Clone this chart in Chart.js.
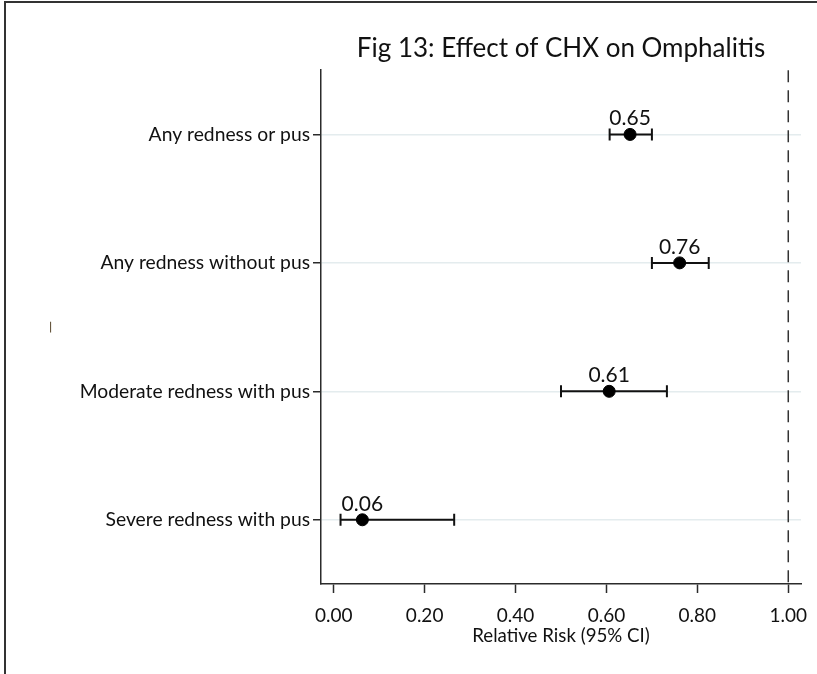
<!DOCTYPE html>
<html>
<head>
<meta charset="utf-8">
<script src="https://cdn.jsdelivr.net/npm/chart.js@4.4.1/dist/chart.umd.min.js"></script>
<style>
  html, body { margin: 0; padding: 0; background: #fff; }
  #wrap { position: relative; width: 817px; height: 674px; }
  #frame { position: absolute; left: 4px; top: 1px; width: 813px; height: 673px;
           border-left: 2px solid #333; border-top: 2px solid #333; box-sizing: border-box; pointer-events: none; }
  canvas { position: absolute; left: 0; top: 0; }
</style>
</head>
<body>
<div id="wrap">
  <canvas id="c" width="817" height="674"></canvas>
  <div id="frame"></div>
</div>
<script>
const categories = ["Any redness or pus", "Any redness without pus", "Moderate redness with pus", "Severe redness with pus"];
const riskValues = [0.652, 0.761, 0.606, 0.063];
const ciLower = [0.607, 0.700, 0.500, 0.015];
const ciUpper = [0.700, 0.825, 0.733, 0.265];
const valueLabels = ["0.65", "0.76", "0.61", "0.06"];
const xTicks = [0, 0.2, 0.4, 0.6, 0.8, 1.0];
const referenceValue = 1.0;

const FONT = "Lato, 'Open Sans', sans-serif";
const DARK = "#2b2b2b";

const points = riskValues.map((v, i) => ({ x: v, y: i + 1 }));

const forestPlugin = {
  id: 'forest',
  beforeDatasetsDraw(chart) {
    const { ctx, chartArea, scales: { x, y } } = chart;
    ctx.save();
    ctx.strokeStyle = "#333";
    ctx.lineWidth = 1.5;
    ctx.setLineDash([12, 8]);
    const rx = x.getPixelForValue(referenceValue);
    ctx.beginPath();
    ctx.moveTo(rx, chartArea.top);
    ctx.lineTo(rx, chartArea.bottom);
    ctx.stroke();
    ctx.restore();
    ctx.save();
    ctx.strokeStyle = "#111";
    ctx.lineWidth = 2;
    for (let i = 0; i < categories.length; i++) {
      const py = y.getPixelForValue(i + 1);
      const x1 = x.getPixelForValue(ciLower[i]);
      const x2 = x.getPixelForValue(ciUpper[i]);
      ctx.beginPath();
      ctx.moveTo(x1, py); ctx.lineTo(x2, py);
      ctx.moveTo(x1, py - 6); ctx.lineTo(x1, py + 6);
      ctx.moveTo(x2, py - 6); ctx.lineTo(x2, py + 6);
      ctx.stroke();
    }
    ctx.restore();
  },
  afterDatasetsDraw(chart) {
    const { ctx, scales: { x, y } } = chart;
    ctx.save();
    ctx.fillStyle = "#111";
    ctx.font = "21px " + FONT;
    ctx.textAlign = "center";
    ctx.textBaseline = "alphabetic";
    for (let i = 0; i < categories.length; i++) {
      ctx.fillText(valueLabels[i], x.getPixelForValue(riskValues[i]), y.getPixelForValue(i + 1) - 9);
    }
    ctx.restore();
  }
};

new Chart(document.getElementById('c'), {
  type: 'scatter',
  data: {
    datasets: [{
      data: points,
      pointRadius: 6,
      pointHoverRadius: 6,
      pointBackgroundColor: "#000",
      pointBorderColor: "#000",
      showLine: false
    }]
  },
  options: {
    responsive: false,
    animation: false,
    events: [],
    layout: { padding: { left: 40, right: 16, top: 33, bottom: 28 } },
    plugins: {
      legend: { display: false },
      tooltip: { enabled: false },
      title: {
        display: true,
        text: "Fig 13: Effect of CHX on Omphalitis",
        fullSize: false,
        color: "#111",
        font: { family: FONT, size: 26, weight: 'normal' },
        padding: { top: 0, bottom: 6 }
      }
    },
    scales: {
      x: {
        type: 'linear',
        min: -0.028,
        max: 1.028,
        afterBuildTicks: s => { s.ticks = xTicks.map(v => ({ value: v })); },
        afterFit: s => { s.height = 674 - 584 - 28; },
        ticks: {
          color: "#111",
          font: { family: FONT, size: 19, lineHeight: 1.45 },
          padding: 9,
          callback: v => Number(v).toFixed(2)
        },
        grid: { drawOnChartArea: false, tickLength: 9, tickColor: DARK, tickWidth: 1.5 },
        border: { display: true, color: DARK, width: 1.5 },
        title: {
          display: true,
          text: "Relative Risk (95% CI)",
          color: "#111",
          font: { family: FONT, size: 18.7, lineHeight: 1.1 },
          padding: 0
        }
      },
      y: {
        type: 'linear',
        reverse: true,
        min: 0.5,
        max: 4.5,
        afterBuildTicks: s => { s.ticks = categories.map((c, i) => ({ value: i + 1 })); },
        afterFit: s => { s.width = 321 - 40; },
        ticks: {
          color: "#111",
          font: { family: FONT, size: 19.3 },
          padding: 3,
          callback: v => categories[v - 1]
        },
        grid: { color: "#e4ecee", lineWidth: 1.5, tickLength: 8, tickColor: DARK, tickWidth: 1.5 },
        border: { display: true, color: DARK, width: 1.5 },
        title: {
          display: true,
          text: "—",
          color: "#5a4a30",
          font: { family: FONT, size: 16 },
          padding: 0
        }
      }
    }
  },
  plugins: [forestPlugin]
});
</script>
</body>
</html>
